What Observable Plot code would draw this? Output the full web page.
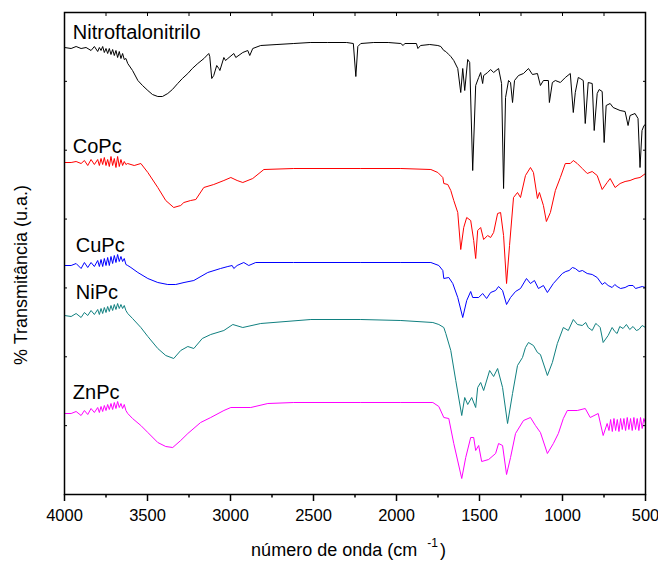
<!DOCTYPE html>
<html><head><meta charset="utf-8">
<script src="https://cdn.jsdelivr.net/npm/d3@7"></script>
<script src="https://cdn.jsdelivr.net/npm/@observablehq/plot@0.6"></script>
<style>body{margin:0;background:#fff} svg{font-family:"Liberation Sans",Arial,sans-serif}</style>
</head><body><div id="chart"></div>
<script>
// wavenumber (cm-1), transmittance (arbitrary units, stacked)
const nitro = [[4000,447],[3960,446],[3930,448],[3900,446],[3870,447],[3840,444],[3820,448],[3800,443],[3790,447],[3780,444],[3770,448],[3760,442],[3750,446],[3740,441],[3730,446],[3720,440],[3710,445],[3700,439],[3690,444],[3680,437],[3670,443],[3660,436],[3650,441],[3640,435],[3630,436],[3619,431],[3590,424],[3558,414],[3530,409],[3498,404],[3470,400],[3438,398],[3410,398],[3378,401],[3350,405],[3318,411],[3290,416],[3257,421],[3230,426],[3197,431],[3160,436],[3131,441],[3125,438],[3113,416],[3101,419],[3083,429],[3070,426],[3064,424],[3040,437],[3030,434],[3016,436],[2980,441],[2968,437],[2926,442],[2896,444],[2884,439],[2866,446],[2818,449],[2720,450],[2619,451],[2520,452],[2414,452],[2300,452],[2260,451],[2245,418],[2233,448],[2215,451],[2137,452],[2050,452],[1974,451],[1960,449],[1950,451],[1880,451],[1871,446],[1855,449],[1800,450],[1751,449],[1733,448],[1715,444],[1703,443],[1685,440],[1673,438],[1655,434],[1631,426],[1613,402],[1601,426],[1589,404],[1571,435],[1559,432],[1541,324],[1523,409],[1505,417],[1493,422],[1481,411],[1475,419],[1451,422],[1433,425],[1415,422],[1385,426],[1367,411],[1355,306],[1343,397],[1325,414],[1313,412],[1301,392],[1289,414],[1265,419],[1235,421],[1205,426],[1181,420],[1151,421],[1133,409],[1115,414],[1085,414],[1079,392],[1061,412],[1043,414],[1013,412],[983,417],[953,421],[935,382],[923,402],[905,417],[893,416],[875,414],[863,371],[845,412],[821,411],[809,364],[791,401],[779,405],[761,403],[749,352],[737,389],[713,391],[695,387],[653,384],[623,383],[605,369],[593,379],[563,381],[545,376],[533,327],[521,364],[509,369],[500,370]];
const copc = [[4000,332],[3960,332],[3930,333],[3900,331],[3880,334],[3860,329],[3840,335],[3820,330],[3800,335],[3790,329],[3780,336],[3770,330],[3760,337],[3750,329],[3740,335],[3730,328],[3720,338],[3710,329],[3700,336],[3690,327],[3680,338],[3670,328],[3660,335],[3650,329],[3640,333],[3630,330],[3620,331],[3580,329],[3540,331],[3498,322],[3438,307],[3390,294],[3342,287],[3300,289],[3281,292],[3240,294],[3209,295],[3161,307],[3101,310],[3040,314],[2998,317],[2960,314],[2926,312],[2866,316],[2799,325],[2619,326],[2215,326],[1974,326],[1793,325],[1751,322],[1721,317],[1715,311],[1691,310],[1673,304],[1655,294],[1631,282],[1613,245],[1595,267],[1577,277],[1553,274],[1535,254],[1523,236],[1511,264],[1493,267],[1475,255],[1451,259],[1433,257],[1415,262],[1391,281],[1373,282],[1355,259],[1337,211],[1319,249],[1295,297],[1271,302],[1253,297],[1223,319],[1193,327],[1175,322],[1151,296],[1139,302],[1115,289],[1097,273],[1073,282],[1043,304],[1013,317],[983,331],[953,331],[935,334],[911,331],[881,326],[851,321],[821,323],[791,319],[761,305],[731,312],[713,316],[683,307],[653,311],[623,313],[593,314],[563,316],[533,317],[500,321]];
const cupc = [[4000,229],[3960,229],[3930,231],[3900,226],[3880,232],[3860,227],[3840,232],[3820,228],[3800,234],[3790,228],[3780,235],[3770,228],[3760,236],[3750,229],[3740,237],[3730,229],[3720,238],[3710,231],[3700,239],[3690,232],[3680,240],[3670,233],[3660,238],[3650,233],[3640,236],[3630,230],[3619,229],[3600,227],[3558,222],[3498,216],[3438,212],[3378,210],[3330,210],[3280,212],[3221,214],[3137,222],[3060,226],[3016,228],[2990,229],[2980,226],[2960,229],[2920,232],[2890,229],[2848,232],[2620,232],[2215,232],[1974,232],[1793,232],[1745,229],[1721,224],[1715,216],[1685,217],[1661,211],[1631,197],[1601,177],[1577,194],[1553,203],[1541,197],[1505,197],[1481,201],[1457,196],[1433,202],[1403,204],[1385,208],[1361,204],[1337,190],[1313,197],[1283,203],[1253,206],[1217,216],[1193,211],[1169,214],[1145,206],[1115,209],[1091,202],[1055,211],[1001,221],[980,223],[960,224],[940,227],[923,226],[900,223],[880,224],[851,221],[821,220],[791,217],[761,210],[745,212],[725,209],[701,207],[685,210],[671,208],[650,206],[623,207],[600,209],[575,209],[560,206],[540,207],[520,208],[500,207]];
const nipc = [[4000,179],[3960,178],[3930,181],[3900,177],[3880,182],[3860,179],[3840,184],[3820,180],[3800,185],[3790,180],[3780,186],[3770,181],[3760,187],[3750,182],[3740,188],[3730,183],[3720,189],[3710,184],[3700,190],[3690,185],[3680,191],[3670,186],[3660,190],[3650,186],[3640,189],[3630,184],[3619,181],[3590,176],[3540,167],[3498,158],[3438,146],[3390,139],[3342,136],[3300,144],[3257,148],[3221,146],[3170,156],[3119,160],[3040,164],[2986,170],[2926,167],[2818,171],[2516,175],[2215,175],[1974,174],[1781,172],[1745,170],[1715,167],[1703,161],[1673,144],[1643,114],[1607,79],[1589,97],[1571,90],[1547,97],[1523,87],[1511,107],[1493,112],[1475,104],[1439,124],[1415,118],[1391,126],[1361,107],[1331,71],[1301,101],[1271,129],[1241,137],[1223,147],[1205,152],[1175,149],[1151,142],[1133,140],[1091,119],[1061,132],[1031,151],[995,167],[965,164],[935,175],[910,170],[881,169],[860,172],[845,167],[821,164],[800,171],[791,170],[773,167],[755,152],[725,159],[701,167],[685,163],[671,161],[655,168],[635,166],[615,170],[595,165],[575,168],[555,164],[540,165],[520,169],[500,167]];
const znpc = [[4000,81],[3960,81],[3930,83],[3900,79],[3880,84],[3860,80],[3840,86],[3820,82],[3800,87],[3790,82],[3780,88],[3770,83],[3760,89],[3750,84],[3740,90],[3730,85],[3720,91],[3710,85],[3700,92],[3690,86],[3680,93],[3670,87],[3660,91],[3650,86],[3640,90],[3630,84],[3619,81],[3590,76],[3540,69],[3498,62],[3438,52],[3390,48],[3348,47],[3300,54],[3257,61],[3180,72],[3119,77],[3040,84],[2998,87],[2878,87],[2775,91],[2619,92],[2215,92],[1974,92],[1781,92],[1745,88],[1715,77],[1685,76],[1655,51],[1607,16],[1583,37],[1553,57],[1535,57],[1523,44],[1505,49],[1487,33],[1445,35],[1403,41],[1385,51],[1361,49],[1337,20],[1313,37],[1283,61],[1235,74],[1193,77],[1163,69],[1133,62],[1091,41],[1055,51],[1025,61],[995,76],[971,84],[911,84],[863,86],[833,77],[785,81],[755,59],[731,71],[720,64],[710,75],[700,63],[690,76],[680,64],[670,75],[660,63],[650,76],[640,65],[630,76],[620,64],[610,77],[600,65],[590,76],[580,64],[570,77],[560,65],[550,76],[540,64],[530,77],[520,66],[510,76],[500,71]];

const names = ["Nitroftalonitrilo", "CoPc", "CuPc", "NiPc", "ZnPc"];
const colors = ["#000000", "#ff0000", "#0000ff", "#108080", "#ff00ff"];
const labelWn = [3950, 3950, 3932, 3932, 3950];
const labelT = [456, 342, 243, 196, 96];
const xMajor = [4000, 3500, 3000, 2500, 2000, 1500, 1000, 500];
const xMinor = [3750, 3250, 2750, 2250, 1750, 1250, 750];
const yTicks = [0, 1, 2, 3, 4, 5, 6, 7].map(i => i * 482 / 7);

const series = [nitro, copc, cupc, nipc, znpc];
const rows = [];
series.forEach((s, i) => s.forEach(([wn, t]) => rows.push({name: names[i], wn, t})));
const labels = names.map((n, i) => ({name: n, wn: labelWn[i], t: labelT[i]}));

const chart = Plot.plot({
  width: 658, height: 563,
  marginLeft: 64, marginRight: 13, marginTop: 12, marginBottom: 69,
  style: {fontFamily: '"Liberation Sans", Arial, sans-serif', fontSize: "16.5px", background: "white", color: "black"},
  x: {domain: [4000, 500]},
  y: {domain: [0, 482]},
  color: {domain: names, range: colors},
  marks: [
    Plot.line(rows, {x: "wn", y: "t", z: "name", stroke: "name", strokeWidth: 1}),
    Plot.text(labels, {x: "wn", y: "t", text: "name", textAnchor: "start", lineAnchor: "bottom", fontSize: 20, fill: "black"}),
    Plot.axisX(xMajor, {anchor: "bottom", tickSize: 7, tickPadding: 8, fontSize: 16.5, strokeWidth: 1.5, label: null, tickFormat: d => String(d)}),
    Plot.axisX(xMinor, {anchor: "bottom", tickSize: 3.5, strokeWidth: 1.5, label: null, tickFormat: () => ""}),
    Plot.axisX([...xMajor, ...xMinor], {anchor: "top", tickSize: -3, strokeWidth: 1, label: null, tickFormat: () => ""}),
    Plot.axisY(yTicks, {anchor: "left", tickSize: -3, strokeWidth: 1, label: null, tickFormat: () => ""}),
    Plot.axisY(yTicks, {anchor: "right", tickSize: -3, strokeWidth: 1, label: null, tickFormat: () => ""}),
    Plot.frame({stroke: "black", strokeWidth: 1.5})
  ]
});

const svg = d3.select(chart);
const xr = chart.scale("x").range;
const yr = chart.scale("y").range;
const xl = svg.append("text")
  .attr("x", (xr[0] + xr[1]) / 2 - 6)
  .attr("y", yr[0] + 62)
  .attr("text-anchor", "middle")
  .attr("font-size", 18)
  .attr("fill", "black");
xl.append("tspan").text("número de onda (cm");
xl.append("tspan").attr("dx", 10).attr("dy", -9).attr("font-size", 12).text("-1");
xl.append("tspan").attr("dx", 2).attr("dy", 9).text(")");
svg.append("text")
  .attr("transform", `translate(27,${(yr[0] + yr[1]) / 2 + 22}) rotate(-90)`)
  .attr("text-anchor", "middle")
  .attr("font-size", 18)
  .attr("fill", "black")
  .text("% Transmitância (u.a.)");

document.getElementById("chart").appendChild(chart);
</script>
</body></html>
